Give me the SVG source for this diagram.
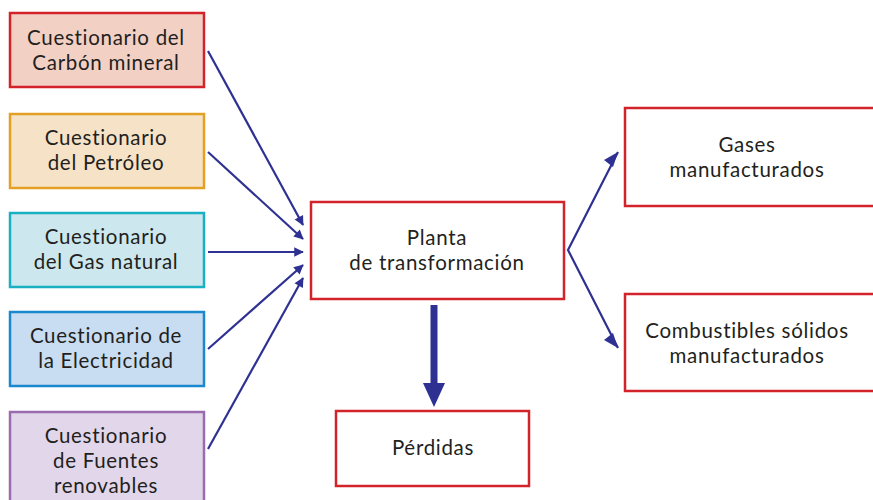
<svg xmlns="http://www.w3.org/2000/svg" width="873" height="500" viewBox="0 0 873 500">
<style>
text{font-family:Lato,"Open Sans",sans-serif;font-size:20.5px;letter-spacing:0.7px;fill:#231f20;text-anchor:middle}
.box{stroke-width:2.5}
.out{fill:#fff;stroke:#d2232a;stroke-width:2.5}
.c{stroke:#2e3192;stroke-width:2.2;fill:none}
</style>
<defs>
<marker id="ah" viewBox="0 0 10 10" refX="9" refY="5" markerWidth="6" markerHeight="6" markerUnits="userSpaceOnUse" orient="auto" style="overflow:visible">
<path d="M0,0 L10,5 L0,10 Z" fill="#2e3192" transform="scale(1.6) translate(-3.5,-1.9)"/>
</marker>
</defs>
<rect width="873" height="500" fill="#fff"/>
<g id="carbon"><rect class="box" x="10" y="13" width="194" height="74" fill="#f2d0c4" stroke="#d2232a"/>
<text x="106" y="45">Cuestionario del</text><text x="106" y="70">Carbón mineral</text></g>
<g id="petroleo"><rect class="box" x="10" y="114" width="194" height="74" fill="#f6e2c6" stroke="#e4a024"/>
<text x="106" y="145">Cuestionario</text><text x="106" y="170">del Petróleo</text></g>
<g id="gas"><rect class="box" x="10" y="213" width="194" height="74" fill="#cce8ee" stroke="#18b0c2"/>
<text x="106" y="244">Cuestionario</text><text x="106" y="269">del Gas natural</text></g>
<g id="electricidad"><rect class="box" x="10" y="312" width="194" height="74" fill="#c8dcf2" stroke="#1a88cc"/>
<text x="106" y="343">Cuestionario de</text><text x="106" y="368">la Electricidad</text></g>
<g id="renovables"><rect class="box" x="10" y="412" width="194" height="100" fill="#e2d6ea" stroke="#9b6bb0"/>
<text x="106" y="443">Cuestionario</text><text x="106" y="468">de Fuentes</text><text x="106" y="493">renovables</text></g>
<g id="planta"><rect class="out" x="311" y="202" width="253" height="97"/>
<text x="437" y="245">Planta</text><text x="437" y="270">de transformación</text></g>
<g id="perdidas"><rect class="out" x="336" y="411" width="193" height="75"/>
<text x="433" y="455">Pérdidas</text></g>
<g id="gases"><rect class="out" x="625" y="108" width="260" height="98"/>
<text x="747" y="152">Gases</text><text x="747" y="177">manufacturados</text></g>
<g id="solidos"><rect class="out" x="625" y="294" width="260" height="97"/>
<text x="747" y="338">Combustibles sólidos</text><text x="747" y="363">manufacturados</text></g>
<g id="connectors">
<line class="c" x1="208" y1="51" x2="303" y2="225" marker-end="url(#ah)"/>
<line class="c" x1="208" y1="152" x2="303" y2="239" marker-end="url(#ah)"/>
<line class="c" x1="208" y1="252" x2="303" y2="252" marker-end="url(#ah)"/>
<line class="c" x1="208" y1="349" x2="303" y2="265" marker-end="url(#ah)"/>
<line class="c" x1="208" y1="449" x2="303" y2="278" marker-end="url(#ah)"/>
<polyline class="c" points="618,152 568,250 618,348"/>
<path d="M618,152 L604,160 L613,167 Z" fill="#2e3192"/>
<path d="M618,348 L613,333 L604,340 Z" fill="#2e3192"/>
<line x1="434" y1="305" x2="434" y2="386" stroke="#2e3192" stroke-width="7"/>
<path d="M423,383 L445,383 L434,407 Z" fill="#2e3192"/>
</g>
</svg>
